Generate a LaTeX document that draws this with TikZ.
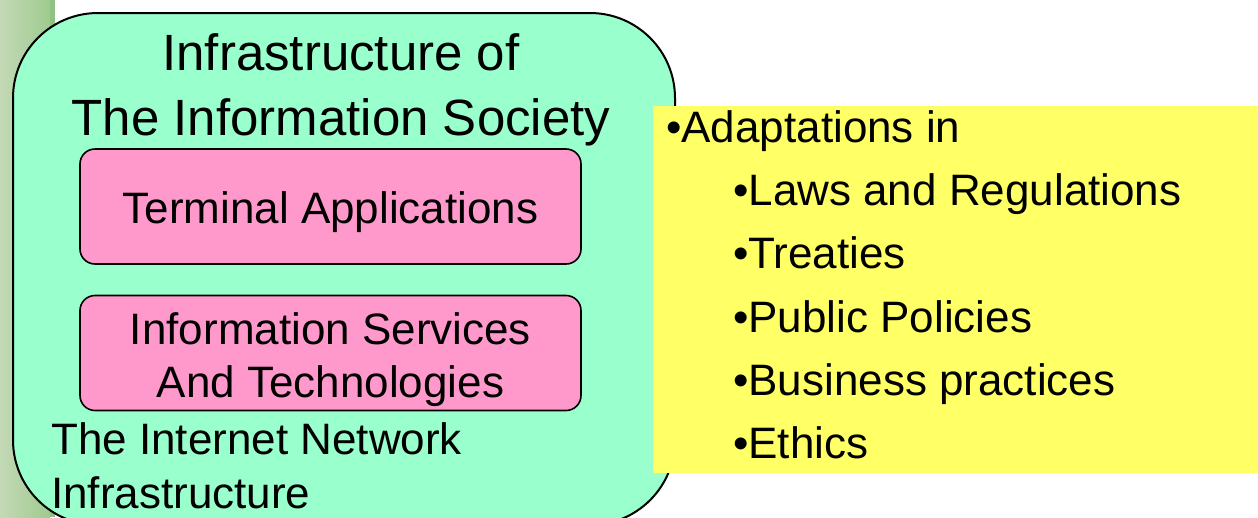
\documentclass[tikz,border=0pt]{standalone}
\usepackage{fontspec}
\setmainfont{Liberation Sans}
\definecolor{aqua}{HTML}{99FFCC}
\definecolor{pinkc}{HTML}{FF99CC}
\definecolor{yel}{HTML}{FFFF66}
\definecolor{stripL}{HTML}{C4D9B6}
\definecolor{stripR}{HTML}{9ECB8F}
\definecolor{stripD}{HTML}{8FC283}
\begin{document}
\begin{tikzpicture}[x=1pt,y=-1pt,
  bigbox/.style={draw=black, line width=2pt, fill=aqua, rounded corners=85pt},
  pinkbox/.style={draw=black, line width=1.6pt, fill=pinkc, rounded corners=15pt,
    minimum width=501pt, minimum height=115pt, inner sep=0pt},
  yelbox/.style={fill=yel, minimum width=605pt, minimum height=367pt, inner sep=0pt, anchor=north west},
  lbl/.style={inner sep=0pt, font=\fontsize{44}{53}\selectfont},
  ttl/.style={inner sep=0pt, font=\fontsize{51}{61}\selectfont}]
\useasboundingbox (0,0) rectangle (1258,517);
\clip (0,0) rectangle (1258,517);
% left decorative strip
\shade[left color=stripL, right color=stripR] (0,0) rectangle (50,517);
\fill[stripD] (50,0) rectangle (55,517);
% big rounded box
\draw[bigbox] (13,13) rectangle (675,525);
% title
\node[ttl, anchor=base] (t1) at (341,70) {Infrastructure of};
\node[ttl, anchor=base] (t2) at (341,135) {The Information Society};
% pink boxes
\node[pinkbox] (term) at (330.5,206.5) {};
\node[lbl, anchor=base] (termtxt) at (330.5,223) {Terminal Applications};
\node[pinkbox] (info) at (330.5,353) {};
\node[lbl, anchor=base] (info1) at (330.5,344) {Information Services};
\node[lbl, anchor=base] (info2) at (330.5,397) {And Technologies};
% bottom text
\node[lbl, anchor=base west] (net1) at (51,454) {The Internet Network};
\node[lbl, anchor=base west] (net2) at (51,508) {Infrastructure};
% yellow box
\node[yelbox] (adapt) at (653,106) {};
\node[lbl, anchor=base west] (a0) at (666,142) {•Adaptations in};
\node[lbl, anchor=base west] (a1) at (733,205) {•Laws and Regulations};
\node[lbl, anchor=base west] (a2) at (733,268) {•Treaties};
\node[lbl, anchor=base west] (a3) at (733,332) {•Public Policies};
\node[lbl, anchor=base west] (a4) at (733,395) {•Business practices};
\node[lbl, anchor=base west] (a5) at (733,458) {•Ethics};
\end{tikzpicture}
\end{document}
